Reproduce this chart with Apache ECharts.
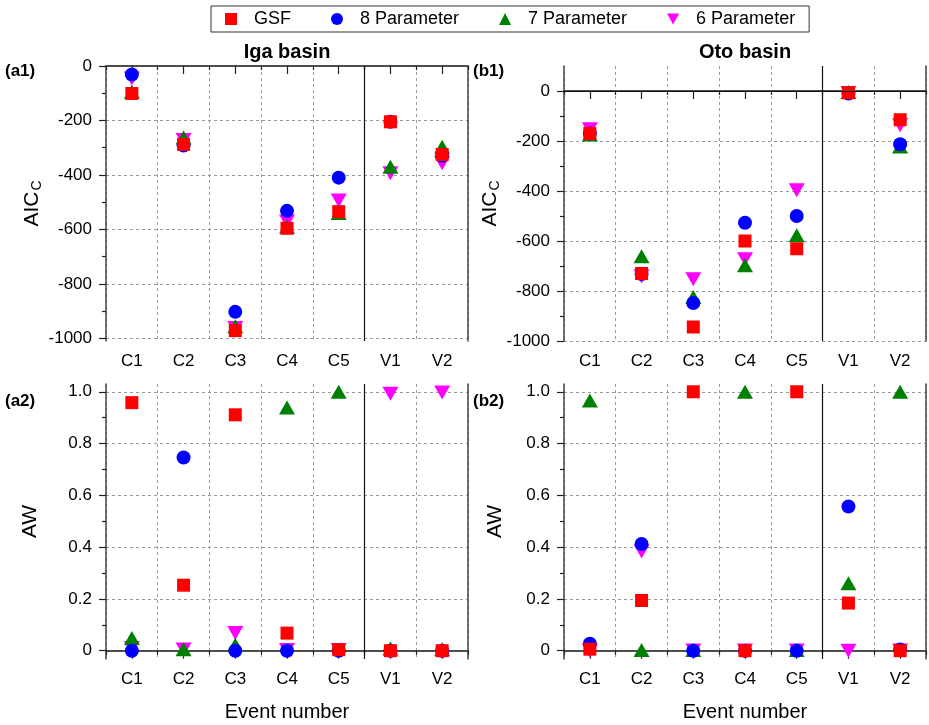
<!DOCTYPE html>
<html><head><meta charset="utf-8">
<script src="https://cdn.jsdelivr.net/npm/echarts@6/dist/echarts.min.js"></script>
<style>html,body{margin:0;padding:0;background:#fff}#c{width:929px;height:725px}</style>
</head><body><div id="c"></div>
<script>
// ---------------- data ----------------
const categories = ['C1', 'C2', 'C3', 'C4', 'C5', 'V1', 'V2'];
const seriesNames = ['GSF', '8 Parameter', '7 Parameter', '6 Parameter'];

// (a1) Iga basin AICc
const igaAIC_GSF = [-101, -288, -972, -596, -535, -205, -325];
const igaAIC_P8  = [-31, -292, -903, -532, -410, -205, -330];
const igaAIC_P7  = [-95, -263, -956, -590, -540, -370, -297];
const igaAIC_P6  = [-46, -272, -962, -571, -494, -394, -357];

// (b1) Oto basin AICc
const otoAIC_GSF = [-170, -730, -944, -600, -631, -7, -115];
const otoAIC_P8  = [-170, -732, -848, -527, -500, -10, -213];
const otoAIC_P7  = [-174, -661, -824, -697, -577, -4, -222];
const otoAIC_P6  = [-153, -742, -753, -673, -397, -8, -137];

// (a2) Iga basin AW
const igaAW_GSF = [0.958, 0.253, 0.911, 0.068, 0.004, 0.0, 0.0];
const igaAW_P8  = [0.0, 0.746, 0.0, 0.0, 0.0, 0.0, 0.0];
const igaAW_P7  = [0.049, 0.006, 0.023, 0.939, 1.0, 0.009, 0.006];
const igaAW_P6  = [0.01, 0.005, 0.068, 0.003, 0.003, 0.992, 0.997];

// (b2) Oto basin AW
const otoAW_GSF = [0.006, 0.194, 1.0, 0.0, 1.0, 0.184, 0.0];
const otoAW_P8  = [0.027, 0.412, 0.0, 0.0, 0.0, 0.557, 0.005];
const otoAW_P7  = [0.966, 0.003, 0.003, 1.0, 0.003, 0.261, 1.0];
const otoAW_P6  = [0.0, 0.383, 0.001, 0.001, 0.001, 0.0, 0.001];

// tick labels
const aicTicks = [-1000, -800, -600, -400, -200, 0];
const aicMinorTicks = [-900, -700, -500, -300, -100];
const awTicks = [0, 0.2, 0.4, 0.6, 0.8, 1.0];
const awMinorTicks = [0.1, 0.3, 0.5, 0.7, 0.9];
const separatorAt = 5.5; // boundary between C5 and V1 (categories numbered 1..7)

// ---------------- styling ----------------
const FONT = 'Liberation Sans, Arial, Helvetica, sans-serif';
const AXIS = '#444';
const GRIDC = '#9a9a9a';
const colors = ['#ff0000', '#0000ff', '#008000', '#ff00ff'];
const symbols = ['rect', 'circle', 'triangle', 'triangle'];
const sizes = [13, 14, [16, 14], [16, 14]];
const rotates = [0, 0, 0, 180];

const panels = [
  { left: 106, top: 66, min: -1010, max: 0, ticks: aicTicks, minor: aicMinorTicks, decimals: 0,
    values: [igaAIC_GSF, igaAIC_P8, igaAIC_P7, igaAIC_P6], yName: 'aic', nameGap: 52, xName: '', zero: false },
  { left: 564, top: 66, min: -1000, max: 100, ticks: aicTicks, minor: aicMinorTicks, decimals: 0,
    values: [otoAIC_GSF, otoAIC_P8, otoAIC_P7, otoAIC_P6], yName: 'aic', nameGap: 51, xName: '', zero: true },
  { left: 106, top: 384, min: -0.032, max: 1.03, ticks: awTicks, minor: awMinorTicks, decimals: 1,
    values: [igaAW_GSF, igaAW_P8, igaAW_P7, igaAW_P6], yName: 'AW', nameGap: 63, xName: 'Event number', zero: false },
  { left: 564, top: 384, min: -0.032, max: 1.03, ticks: awTicks, minor: awMinorTicks, decimals: 1,
    values: [otoAW_GSF, otoAW_P8, otoAW_P7, otoAW_P6], yName: 'AW', nameGap: 56, xName: 'Event number', zero: false }
];
const W = 362, H = 275;

const grid = [], xAxis = [], yAxis = [], series = [];
const dash = { color: GRIDC, width: 1, type: [3, 3] };

panels.forEach((p, i) => {
  const gA = 2 * i, gB = 2 * i + 1;
  grid.push({ left: p.left, top: p.top, width: W, height: H, containLabel: false, outerBoundsMode: 'none' });
  grid.push({ left: p.left, top: p.top, width: W, height: H, containLabel: false, outerBoundsMode: 'none' });
  const fmt = v => (Math.abs(v) < 1e-9 ? '0' : v.toFixed(p.decimals));
  // x axes
  xAxis.push({
    type: 'category', gridIndex: gA, data: categories, position: 'bottom', boundaryGap: true,
    axisLine: { show: true, lineStyle: { color: AXIS, width: 1.5 } },
    axisTick: { show: true, alignWithLabel: true, length: 8, interval: 0, lineStyle: { color: '#222', width: 1.2 } },
    axisLabel: { show: true, interval: 0, margin: 12, color: '#000', fontSize: 17, fontFamily: FONT },
    splitLine: { show: true, interval: 0, lineStyle: dash },
    name: p.xName, nameLocation: 'middle', nameGap: 43,
    nameTextStyle: { fontSize: 20, color: '#000', fontFamily: FONT }
  });
  xAxis.push({
    type: 'category', gridIndex: gB, data: categories, position: 'bottom', boundaryGap: true,
    axisLine: { show: false },
    axisTick: { show: true, alignWithLabel: false, length: 4, interval: 0, lineStyle: { color: '#222', width: 1.2 } },
    axisLabel: { show: false }, splitLine: { show: false }
  });
  xAxis.push({
    type: 'value', gridIndex: gB, position: 'top', min: 0.5, max: 7.5,
    axisLine: { show: true, lineStyle: { color: AXIS, width: 1.5 } },
    axisTick: { show: false }, axisLabel: { show: false }, splitLine: { show: false }
  });
  // y axes
  const yNameText = p.yName === 'aic' ? '{m|AIC}{s|C}' : '{m|AW}';
  yAxis.push({
    type: 'value', gridIndex: gA, position: 'left', min: p.min, max: p.max,
    axisLine: { show: true, lineStyle: { color: AXIS, width: 1.5 } },
    axisTick: { show: true, length: 7, customValues: p.ticks, lineStyle: { color: '#222', width: 1.2 } },
    axisLabel: { show: true, customValues: p.ticks, margin: 14, color: '#000', fontSize: 17, fontFamily: FONT, formatter: fmt },
    splitLine: { show: true, lineStyle: dash },
    name: yNameText, nameLocation: 'middle', nameGap: p.nameGap, nameRotate: 90,
    nameTextStyle: {
      color: '#000', fontFamily: FONT,
      rich: {
        m: { fontSize: 21, color: '#000', fontFamily: FONT, lineHeight: 26 },
        s: { fontSize: 14, color: '#000', fontFamily: FONT, lineHeight: 26, padding: [10, 0, 0, 1] }
      }
    }
  });
  yAxis.push({
    type: 'value', gridIndex: gB, position: 'left', min: p.min, max: p.max,
    axisLine: { show: false },
    axisTick: { show: true, length: 4, customValues: p.minor, lineStyle: { color: '#222', width: 1.2 } },
    axisLabel: { show: false }, splitLine: { show: false }
  });
  yAxis.push({
    type: 'value', gridIndex: gB, position: 'right', min: p.min, max: p.max,
    axisLine: { show: true, lineStyle: { color: AXIS, width: 1.5 } },
    axisTick: { show: false }, axisLabel: { show: false }, splitLine: { show: false }
  });
  // separator / zero line
  const mlData = [{ xAxis: separatorAt }];
  if (p.zero) mlData.push({ yAxis: 0 });
  series.push({
    type: 'line', xAxisIndex: 3 * i + 2, yAxisIndex: 3 * i + 2, data: [], silent: true,
    markLine: { silent: true, symbol: ['none', 'none'], label: { show: false },
      lineStyle: { color: '#111', width: 1.2, type: 'solid' }, data: mlData, animation: false }
  });
  // scatter series: draw 6P first, GSF last (on top)
  for (let k = 3; k >= 0; k--) {
    series.push({
      type: 'scatter', name: seriesNames[k], xAxisIndex: 3 * i, yAxisIndex: 3 * i,
      data: p.values[k], symbol: symbols[k], symbolSize: sizes[k], symbolRotate: rotates[k],
      itemStyle: { color: colors[k], opacity: 1 }, clip: false, z: 3
    });
  }
});

const graphicTexts = [
  { text: 'Iga basin', x: 287, y: 52, size: 20, align: 'center' },
  { text: 'Oto basin', x: 745, y: 52, size: 20, align: 'center' },
  { text: '(a1)', x: 5, y: 71, size: 17, align: 'left' },
  { text: '(b1)', x: 473, y: 71, size: 17, align: 'left' },
  { text: '(a2)', x: 5, y: 401, size: 17, align: 'left' },
  { text: '(b2)', x: 473, y: 401, size: 17, align: 'left' }
];

const chart = echarts.init(document.getElementById('c'), null, { renderer: 'canvas' });
chart.setOption({
  animation: false,
  backgroundColor: '#fff',
  textStyle: { fontFamily: FONT },
  legend: {
    left: 211, top: 6,
    data: [
      { name: 'GSF', icon: 'rect' },
      { name: '8 Parameter', icon: 'circle' },
      { name: '7 Parameter', icon: 'triangle' },
      { name: '6 Parameter', icon: 'path://M0,0L20,0L10,18Z' }
    ],
    itemWidth: 12, itemHeight: 12, itemGap: 40,
    padding: [4, 14],
    borderColor: '#333', borderWidth: 1,
    textStyle: { fontSize: 18, color: '#000', fontFamily: FONT, padding: [0, 0, 0, 12] }
  },
  grid, xAxis, yAxis, series,
  graphic: graphicTexts.map(t => ({
    type: 'text', x: t.x, y: t.y, silent: true,
    style: { text: t.text, fontSize: t.size, fontWeight: 'bold', fontFamily: FONT, fill: '#000',
      align: t.align, verticalAlign: 'middle' }
  }))
});
</script></body></html>
